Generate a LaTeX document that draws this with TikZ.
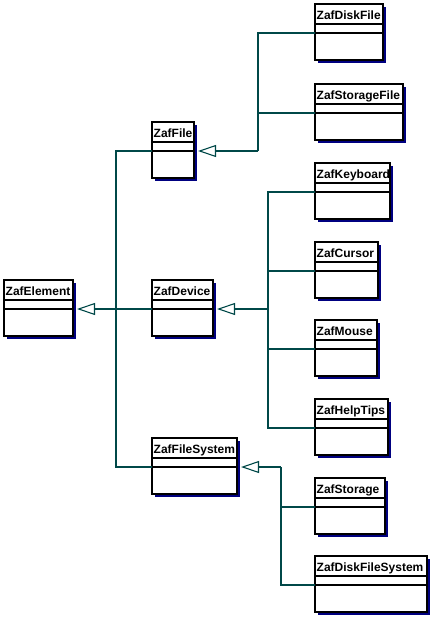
\documentclass[tikz,border=0pt]{standalone}
\usepackage{fontspec}
\setmainfont{Liberation Sans}
\usetikzlibrary{arrows.meta,shadows}

\definecolor{zafnavy}{RGB}{0,0,128}
\definecolor{zafteal}{RGB}{0,72,72}

\tikzset{
  classbox/.style={draw, line width=1.1pt, fill=white, minimum height=56pt,
    inner sep=0pt, outer sep=0pt,
    drop shadow={shadow xshift=3pt, shadow yshift=-3pt, fill=zafnavy, opacity=1}},
  classname/.style={inner sep=0pt, font=\fontsize{12}{13}\selectfont\bfseries},
  conn/.style={zafteal, line width=1.1pt},
  inherit/.style={conn, -{Triangle[open, length=18pt, width=12pt]}}
}

% one class: name, left, top, width
\newcommand\zafclass[4]{%
  \node[classbox, minimum width=#4pt, anchor=north west] (#1) at (#2,#3) {};
  \node[classname, anchor=base west] at ([xshift=1.5pt,yshift=-15.5pt]#1.north west) {#1};
  \draw[line width=1.1pt] ([yshift=-20pt]#1.north west) -- ([yshift=-20pt]#1.north east);
  \draw[line width=1.1pt] ([yshift=-29pt]#1.north west) -- ([yshift=-29pt]#1.north east);
  \coordinate (#1-in) at ([yshift=-29pt]#1.north west);
  \coordinate (#1-out) at ([xshift=4pt,yshift=-29pt]#1.north east);
}

\begin{document}
\begin{tikzpicture}[x=1pt, y=-1pt]

  \useasboundingbox (0,0) rectangle (433,618);

  % Classes
  \zafclass{ZafElement}{4}{280}{69}
  \zafclass{ZafFile}{152}{122}{42}
  \zafclass{ZafDevice}{152}{280}{61}
  \zafclass{ZafFileSystem}{152}{438}{85}

  \zafclass{ZafDiskFile}{315}{4}{68}
  \zafclass{ZafStorageFile}{315}{84}{88}
  \zafclass{ZafKeyboard}{315}{163}{75}
  \zafclass{ZafCursor}{315}{242}{63}
  \zafclass{ZafMouse}{315}{320}{62}
  \zafclass{ZafHelpTips}{315}{399}{73}
  \zafclass{ZafStorage}{315}{478}{70}
  \zafclass{ZafDiskFileSystem}{315}{556}{112}

  % Bus points
  \coordinate (e-bus) at (116,309);
  \coordinate (f-bus) at (258,151);
  \coordinate (d-bus) at (268,309);
  \coordinate (s-bus) at (281,467);

  % ZafElement
  \draw[inherit] (ZafDevice-in) -- (ZafElement-out);
  \draw[conn] (ZafFile-in) -| (e-bus) |- (ZafFileSystem-in);

  % ZafFile
  \draw[inherit] (f-bus) -- (ZafFile-out);
  \draw[conn] (ZafDiskFile-in) -| (f-bus);
  \draw[conn] (ZafStorageFile-in) -- (ZafStorageFile-in -| f-bus);

  % ZafDevice
  \draw[inherit] (d-bus) -- (ZafDevice-out);
  \draw[conn] (ZafKeyboard-in) -| (d-bus) |- (ZafHelpTips-in);
  \draw[conn] (ZafCursor-in) -- (ZafCursor-in -| d-bus);
  \draw[conn] (ZafMouse-in) -- (ZafMouse-in -| d-bus);

  % ZafFileSystem
  \draw[inherit] (s-bus) -- (ZafFileSystem-out);
  \draw[conn] (s-bus) |- (ZafDiskFileSystem-in);
  \draw[conn] (ZafStorage-in) -- (ZafStorage-in -| s-bus);

\end{tikzpicture}
\end{document}
